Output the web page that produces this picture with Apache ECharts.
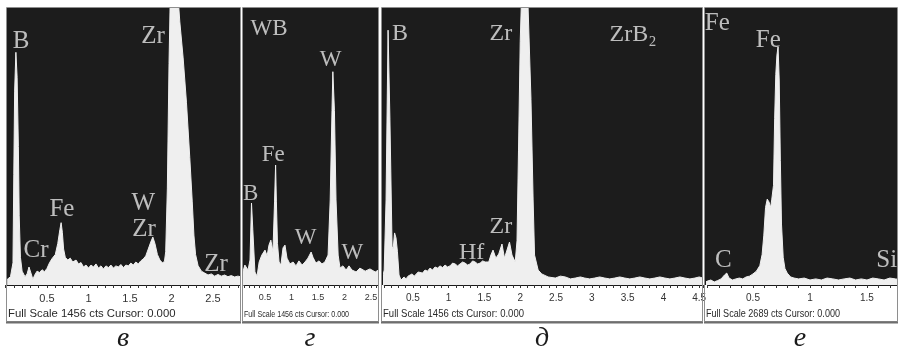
<!DOCTYPE html>
<html><head><meta charset="utf-8">
<script src="https://cdn.jsdelivr.net/npm/echarts/dist/echarts.min.js"></script>
<style>html,body{margin:0;padding:0;background:#fff}#c{width:898px;height:355px}</style>
</head><body><div id="c"></div>
<script>
// ---- data: EDS spectra, [energy keV, intensity % of full scale] ----
const spectrumV = [[0.02,2],[0.06,3],[0.09,8],[0.1,40],[0.11,70],[0.125,84],[0.14,75],[0.155,50],[0.165,25],[0.18,10],[0.2,5],[0.235,3],[0.26,4],[0.283,6.5],[0.31,4],[0.33,2],[0.35,3.5],[0.38,5],[0.41,4.5],[0.44,5.5],[0.47,4.8],[0.5,6],[0.53,8],[0.56,9.5],[0.6,11],[0.63,15],[0.655,20],[0.67,22.5],[0.685,19],[0.7,13],[0.72,10],[0.75,9],[0.78,9.7],[0.81,8.3],[0.85,9],[0.88,7.6],[0.91,8.1],[0.94,6.5],[0.97,7.2],[1.0,6.1],[1.03,7.2],[1.06,6.5],[1.09,7.6],[1.12,6.1],[1.15,6.9],[1.18,5.8],[1.21,6.9],[1.24,6.3],[1.27,7.2],[1.3,6.1],[1.33,6.9],[1.36,6.5],[1.39,7.4],[1.42,6.3],[1.45,7.2],[1.48,6.9],[1.51,7.9],[1.54,7.2],[1.57,8.3],[1.6,7.6],[1.63,8.7],[1.66,9.4],[1.69,10.5],[1.72,13],[1.75,15.5],[1.775,17.3],[1.8,15],[1.83,11],[1.86,9],[1.89,8],[1.915,8.5],[1.93,12],[1.95,35],[1.97,80],[1.99,112],[2.02,125],[2.06,112],[2.1,95],[2.14,82],[2.18,66],[2.22,46],[2.25,30],[2.27,18],[2.29,11],[2.32,7],[2.36,5],[2.4,4.3],[2.44,3.6],[2.48,4],[2.52,3.2],[2.56,3.8],[2.6,3.2],[2.64,3.6],[2.68,3],[2.72,3.4],[2.76,2.9],[2.8,3.2],[2.83,3]];
const spectrumG = [[0.066,3.6],[0.12,7.2],[0.18,5.4],[0.217,9],[0.245,29.6],[0.27,20],[0.31,4.7],[0.35,3.2],[0.39,8.3],[0.44,10.8],[0.5,12.6],[0.54,10.5],[0.575,14.4],[0.61,16.2],[0.65,12],[0.68,30],[0.7,43.3],[0.715,30],[0.735,15],[0.765,8.3],[0.8,7.2],[0.84,13.4],[0.877,14.4],[0.915,9.7],[0.97,7.6],[1.03,8.3],[1.085,6.9],[1.14,8.7],[1.2,7.2],[1.255,8.3],[1.31,9.7],[1.37,11.9],[1.405,10],[1.46,7.9],[1.52,8.7],[1.575,7.6],[1.63,8.3],[1.69,10.8],[1.73,30.7],[1.764,63],[1.78,77],[1.81,63],[1.84,30.7],[1.88,10.8],[1.915,6.1],[1.97,6.9],[2.03,5.4],[2.085,6.9],[2.14,5.4],[2.22,4.7],[2.29,6.1],[2.39,5],[2.48,5.8],[2.58,4.7],[2.64,5.4]];
const spectrumD = [[0.07,1.8],[0.1,5.4],[0.126,30.7],[0.154,92],[0.18,59.6],[0.21,14],[0.225,13],[0.245,18.8],[0.265,17],[0.285,12],[0.307,3.6],[0.335,1.8],[0.377,2.9],[0.405,2.2],[0.433,3.2],[0.46,2.5],[0.49,4],[0.52,3.2],[0.545,3.6],[0.575,4.7],[0.6,5],[0.635,4.3],[0.67,5.4],[0.705,5],[0.74,6.1],[0.775,5.4],[0.81,6.5],[0.845,6.1],[0.88,6.9],[0.915,6.3],[0.95,7.2],[0.985,6.5],[1.02,6.9],[1.055,7.9],[1.09,7.6],[1.125,6.9],[1.16,7.6],[1.195,8.3],[1.23,7.9],[1.265,7.2],[1.3,7.6],[1.335,8.7],[1.37,8.3],[1.405,7.6],[1.44,7.9],[1.475,8.7],[1.51,8.3],[1.56,8.3],[1.59,10.8],[1.62,12.6],[1.66,9.7],[1.7,11.2],[1.745,14.8],[1.78,9.7],[1.815,12.6],[1.85,15.5],[1.885,10.8],[1.93,8.3],[1.955,16],[1.976,48.7],[2.0,88],[2.025,110],[2.07,120],[2.11,100],[2.15,67],[2.18,30.7],[2.2,10.8],[2.25,5.4],[2.3,4],[2.39,2.9],[2.49,2.5],[2.56,3.2],[2.63,2.9],[2.7,2.2],[2.77,2.5],[2.84,2.9],[2.9,2.5],[2.97,2.2],[3.04,2.5],[3.11,2.9],[3.18,2.5],[3.25,2.2],[3.32,2.5],[3.39,2.9],[3.46,2.5],[3.53,2.2],[3.6,2.5],[3.67,2.9],[3.74,2.5],[3.81,2.2],[3.88,2.5],[3.95,2.9],[4.02,2.5],[4.09,2.2],[4.16,2.5],[4.23,2.9],[4.3,2.5],[4.37,2.2],[4.44,2.5],[4.5,2.9],[4.55,2.5]];
const spectrumE = [[0.06,0.7],[0.1,1.4],[0.13,1.8],[0.16,1.1],[0.19,1.6],[0.22,2.2],[0.25,3.6],[0.27,4.3],[0.29,2.5],[0.32,1.8],[0.35,2.2],[0.38,2.5],[0.41,2.2],[0.44,2.9],[0.47,3.2],[0.5,4],[0.53,5],[0.56,7],[0.58,11],[0.595,18],[0.61,28],[0.625,31],[0.64,30],[0.655,28],[0.665,31],[0.68,36],[0.69,60],[0.7,76],[0.71,83],[0.72,86],[0.73,74],[0.74,45],[0.75,22],[0.765,10],[0.78,6],[0.8,4.3],[0.83,2.9],[0.86,2.5],[0.9,2.2],[0.95,2.5],[1.0,1.8],[1.05,2.2],[1.1,1.8],[1.15,2.5],[1.2,2.2],[1.25,1.8],[1.3,2.2],[1.35,2.5],[1.4,1.8],[1.45,2.2],[1.5,1.8],[1.55,2.5],[1.6,2.2],[1.65,1.8],[1.7,2.5],[1.75,2.2],[1.78,2]];

// peak labels: text + anchor in data coordinates (keV, %)
const labelsV = [{t:'B',x:0.187,y:88.1},{t:'Zr',x:1.777,y:89.9},{t:'Fe',x:0.68,y:27.1},{t:'Cr',x:0.367,y:12.3},{t:'W',x:1.66,y:29.5},{t:'Zr',x:1.669,y:20.2},{t:'Zr',x:2.536,y:7.6}];
const labelsG = [{t:'WB',x:0.575,y:92.4},{t:'W',x:1.74,y:81.2},{t:'Fe',x:0.657,y:46.9},{t:'B',x:0.23,y:32.9},{t:'W',x:1.268,y:17},{t:'W',x:2.147,y:11.4}];
const labelsD = [{t:'B',x:0.32,y:90.9},{t:'Zr',x:1.73,y:90.9},{t:'ZrB₂',x:3.575,y:90.4},{t:'Zr',x:1.73,y:21},{t:'Hf',x:1.32,y:11.7}];
const labelsE = [{t:'Fe',x:0.187,y:94.5},{t:'Fe',x:0.634,y:88.2},{t:'C',x:0.24,y:9},{t:'Si',x:1.673,y:9}];

const tickLabelsV = ['0.5','1','1.5','2','2.5'];
const tickLabelsG = ['0.5','1','1.5','2','2.5'];
const tickLabelsD = ['0.5','1','1.5','2','2.5','3','3.5','4','4.5'];
const tickLabelsE = ['0.5','1','1.5'];

const fullScaleTexts = ['Full Scale 1456 cts Cursor: 0.000','Full Scale 1456 cts Cursor: 0.000','Full Scale 1456 cts Cursor: 0.000','Full Scale 2689 cts Cursor: 0.000'];
const captions = ['в','г','д','е'];

// ---- layout (positions & styles) ----
const layout = [
  {x0:6,   x1:241, left:5.5,   width:234.9, min:0,   max:2.83, tickFont:11, labelFont:25, fsX:1.03,  fsY:1,    cap:123},
  {x0:242, x1:379, left:243.8, width:134.1, min:0.1, max:2.63, tickFont:9,  labelFont:23, fsX:0.646, fsY:0.9,  cap:310},
  {x0:381, x1:703, left:384.2, width:318.6, min:0.1, max:4.55, tickFont:10, labelFont:24, fsX:0.867, fsY:0.95, cap:542},
  {x0:704, x1:898, left:707.4, width:191.5, min:0.1, max:1.78, tickFont:10, labelFont:25, fsX:0.824, fsY:0.95, cap:800}
];
const spectra = [spectrumV, spectrumG, spectrumD, spectrumE];
const labelSets = [labelsV, labelsG, labelsD, labelsE];
const tickSets = [tickLabelsV, tickLabelsG, tickLabelsD, tickLabelsE];

const TOP = 8, BOTTOM = 285;
const grids = [], xAxes = [], yAxes = [], series = [], graphics = [];
layout.forEach((p, i) => {
  grids.push({left:p.left, width:p.width, top:TOP, height:BOTTOM-TOP, outerBoundsMode:'none', containLabel:false, show:false});
  const ticks = tickSets[i];
  xAxes.push({
    type:'value', gridIndex:i, min:p.min, max:p.max, interval:0.1,
    axisLine:{show:true, lineStyle:{color:'#1a1a1a', width:1}},
    axisTick:{show:true, inside:false, length:3, lineStyle:{color:'#333', width:1}},
    splitLine:{show:false},
    axisLabel:{
      margin:8, fontSize:p.tickFont, color:'#333', fontFamily:'Liberation Sans, Arial, sans-serif',
      showMinLabel:true, showMaxLabel:true, hideOverlap:false,
      formatter:v => { const s = String(Math.round(v*10)/10); return ticks.includes(s) ? s : ''; }
    }
  });
  yAxes.push({type:'value', gridIndex:i, min:0, max:100, show:false});
  series.push({
    type:'line', xAxisIndex:i, yAxisIndex:i, data:spectra[i], symbol:'none', showSymbol:false,
    lineStyle:{color:'#efefef', width:1}, areaStyle:{color:'#efefef', opacity:1}, clip:true, z:2, silent:true
  });
  series.push({
    type:'scatter', xAxisIndex:i, yAxisIndex:i, symbolSize:1, itemStyle:{color:'rgba(0,0,0,0)'}, z:5, silent:true,
    data:labelSets[i].map(l => ({name:l.t, value:[l.x, l.y]})),
    label:{show:true, position:'inside', formatter:'{b}', color:'#e6e6e6', fontSize:p.labelFont,
      fontFamily:'Liberation Serif, DejaVu Serif, serif'}
  });
  // dark plot background
  graphics.push({type:'rect', z:-10, shape:{x:p.x0, y:TOP, width:p.x1-p.x0, height:BOTTOM-TOP}, style:{fill:'#1c1c1c'}, silent:true});
  // frame
  graphics.push({type:'rect', z:100, shape:{x:p.x0+0.5, y:7.5, width:p.x1-p.x0-1, height:314}, style:{fill:'none', stroke:'#8e8e8e', lineWidth:1}, silent:true});
  graphics.push({type:'line', z:100, shape:{x1:p.x0, y1:322.5, x2:p.x1, y2:322.5}, style:{stroke:'#6e6e6e', lineWidth:2}, silent:true});
  // full scale text
  graphics.push({type:'text', z:100, x:p.x0+2, y:314, scaleX:p.fsX, scaleY:p.fsY,
    style:{x:0, y:0, text:fullScaleTexts[i], fill:'#2a2a2a', font:'11px "Liberation Sans", Arial, sans-serif', textVerticalAlign:'middle', textAlign:'left'}, silent:true});
  // caption
  graphics.push({type:'text', z:100, x:p.cap, y:353,
    style:{x:0, y:0, text:captions[i], fill:'#1a1a1a', font:'italic 28px "Liberation Serif", "DejaVu Serif", serif', textAlign:'center', textVerticalAlign:'bottom'}, silent:true});
});

const chart = echarts.init(document.getElementById('c'), null, {renderer:'canvas'});
chart.setOption({
  animation:false, backgroundColor:'#ffffff',
  grid:grids, xAxis:xAxes, yAxis:yAxes, series:series,
  graphic:{elements:graphics}
});
</script></body></html>
